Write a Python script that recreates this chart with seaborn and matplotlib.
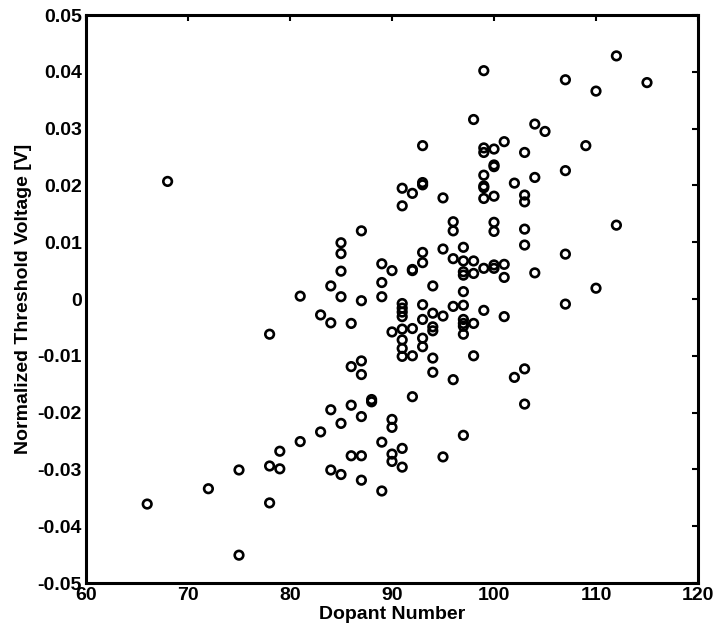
import matplotlib
matplotlib.use("Agg")
import matplotlib.pyplot as plt
import seaborn as sns
import pandas as pd
from matplotlib import font_manager

# ---- data ----
x_vals = (
    [66, 68, 72]
    + [75] * 2 + [78] * 3 + [79] * 2 + [81] * 2 + [83] * 2 + [84] * 4
    + [85] * 6 + [86] * 4 + [87] * 7 + [88] * 2 + [89] * 5 + [90] * 6
    + [91] * 12 + [92] * 6 + [93] * 9 + [94] * 6 + [95] * 4 + [96] * 5
    + [97] * 11 + [98] * 5 + [99] * 9 + [100] * 8 + [101] * 4 + [102] * 2
    + [103] * 7 + [104] * 3 + [105] + [107] * 4 + [109] + [110] * 2
    + [112] * 2 + [115]
)
y_vals = [
    -0.0361, 0.0207, -0.0334,
    -0.0301, -0.0451,
    -0.0062, -0.0294, -0.0359,
    -0.0268, -0.0299,
    0.0005, -0.0251,
    -0.0028, -0.0234,
    0.0023, -0.0042, -0.0195, -0.0301,
    0.0099, 0.0080, 0.0049, 0.0004, -0.0219, -0.0309,
    -0.0043, -0.0119, -0.0187, -0.0276,
    0.0120, -0.0003, -0.0109, -0.0133, -0.0207, -0.0276, -0.0319,
    -0.0177, -0.0181,
    0.0062, 0.0029, 0.0004, -0.0252, -0.0338,
    0.0050, -0.0058, -0.0212, -0.0226, -0.0273, -0.0286,
    0.0195, 0.0164, -0.0008, -0.0016, -0.0023, -0.0031, -0.0053, -0.0072,
    -0.0087, -0.0101, -0.0263, -0.0296,
    0.0186, 0.0052, 0.0050, -0.0052, -0.0100, -0.0172,
    0.0270, 0.0205, 0.0201, 0.0082, 0.0064, -0.0010, -0.0036, -0.0069, -0.0084,
    0.0023, -0.0025, -0.0049, -0.0056, -0.0104, -0.0129,
    0.0178, 0.0088, -0.0030, -0.0278,
    0.0136, 0.0120, 0.0071, -0.0013, -0.0142,
    0.0091, 0.0067, 0.0048, 0.0042, 0.0013, -0.0011, -0.0036, -0.0043,
    -0.0048, -0.0062, -0.0240,
    0.0316, 0.0067, 0.0045, -0.0043, -0.0100,
    0.0402, 0.0266, 0.0258, 0.0218, 0.0199, 0.0196, 0.0177, 0.0054, -0.0020,
    0.0264, 0.0236, 0.0233, 0.0181, 0.0135, 0.0119, 0.0060, 0.0054,
    0.0277, 0.0061, 0.0038, -0.0031,
    0.0204, -0.0138,
    0.0258, 0.0183, 0.0171, 0.0123, 0.0095, -0.0123, -0.0185,
    0.0308, 0.0214, 0.0046,
    0.0295,
    0.0386, 0.0226, 0.0079, -0.0009,
    0.0270,
    0.0366, 0.0019,
    0.0428, 0.0130,
    0.0381,
]
x_ticks = [60, 70, 80, 90, 100, 110, 120]
y_ticks = [-0.05, -0.04, -0.03, -0.02, -0.01, 0, 0.01, 0.02, 0.03, 0.04, 0.05]
y_tick_labels = ["-0.05", "-0.04", "-0.03", "-0.02", "-0.01", "0",
                 "0.01", "0.02", "0.03", "0.04", "0.05"]
x_label = "Dopant Number"
y_label = "Normalized Threshold Voltage [V]"

df = pd.DataFrame({"dopant": x_vals, "vth": y_vals})

sns.set_style("white")
plt.rcParams["font.family"] = ["Liberation Sans", "DejaVu Sans"]
plt.rcParams["text.color"] = "black"
plt.rcParams["axes.labelcolor"] = "black"

fig = plt.figure(figsize=(7.18, 6.42), dpi=100)
ax = fig.add_axes([86 / 718, 1 - 583 / 642, (698 - 86) / 718, (583 - 15) / 642])

sns.scatterplot(data=df, x="dopant", y="vth", ax=ax, marker="o", s=38,
                facecolors="none", edgecolors="black", linewidths=1.9,
                legend=False)

ax.set_xlim(60, 120)
ax.set_ylim(-0.05, 0.05)
ax.set_xticks(x_ticks)
ax.set_xticklabels([str(t) for t in x_ticks])
ax.set_yticks(y_ticks)
ax.set_yticklabels(y_tick_labels)

for sp in ax.spines.values():
    sp.set_visible(True)
    sp.set_linewidth(2.2)
    sp.set_color("black")

ax.tick_params(axis="both", which="major", direction="in", length=4, width=1.5,
               top=True, right=True, labelsize=14, pad=3,
               colors="black", labelcolor="black")
for lab in ax.get_xticklabels() + ax.get_yticklabels():
    lab.set_fontweight("bold")

ax.set_xlabel(x_label, fontsize=14, fontweight="bold", labelpad=1, color="black")
ax.set_ylabel(y_label, fontsize=14, fontweight="bold", labelpad=4, color="black")

fig.savefig("out.png", dpi=100, facecolor="white")
